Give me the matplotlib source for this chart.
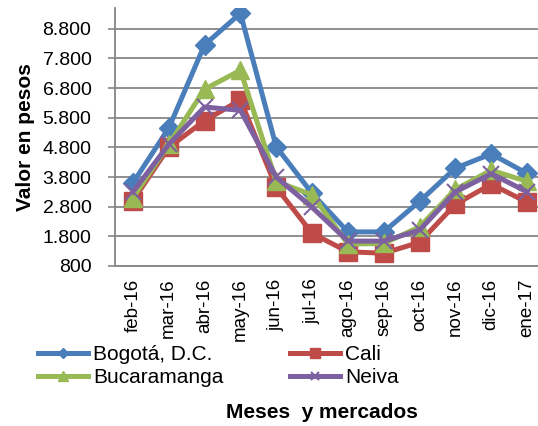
import matplotlib.pyplot as plt
from matplotlib.ticker import FuncFormatter

plt.rcParams['font.family'] = ['Liberation Sans', 'DejaVu Sans']

months = ['feb-16', 'mar-16', 'abr-16', 'may-16', 'jun-16', 'jul-16',
          'ago-16', 'sep-16', 'oct-16', 'nov-16', 'dic-16', 'ene-17']
bogota = [3600, 5450, 8260, 9320, 4820, 3250, 1950, 1950, 2980, 4100, 4580, 3920]
cali = [3000, 4800, 5700, 6400, 3450, 1900, 1280, 1230, 1600, 2880, 3560, 2950]
bucaramanga = [3100, 4900, 6760, 7400, 3650, 3200, 1540, 1560, 2120, 3380, 4030, 3650]
neiva = [3300, 4900, 6160, 6050, 3800, 2780, 1640, 1640, 2010, 3300, 3910, 3300]
yticks = [800, 1800, 2800, 3800, 4800, 5800, 6800, 7800, 8800]

fig = plt.figure(figsize=(5.38, 4.26), dpi=100)
ax = fig.add_axes([115/538, 1-266/426, 430/538, 258/426])

x = range(len(months))
lw = 3.6
l1, = ax.plot(x, bogota, color='#4A7EBB', lw=lw, marker='D', ms=10, label='Bogotá, D.C.', zorder=3)
l2, = ax.plot(x, cali, color='#BE4B48', lw=lw, marker='s', ms=13, label='Cali', zorder=4)
l3, = ax.plot(x, bucaramanga, color='#98B954', lw=lw, marker='^', ms=13, label='Bucaramanga', zorder=5)
l4, = ax.plot(x, neiva, color='#7D60A0', lw=lw, marker='x', ms=11, mew=1.5, label='Neiva', zorder=6)

ax.set_xlim(-0.5, 11.5)
ax.set_ylim(800, 9500)
ax.set_yticks(yticks)
ax.yaxis.set_major_formatter(FuncFormatter(lambda v, p: f'{int(v):,}'.replace(',', '.')))
ax.set_xticks(list(x))
ax.set_xticklabels(months, rotation=90, fontsize=13.5)
ax.tick_params(axis='y', labelsize=14, length=5, color='#868686', width=1.2, pad=12)
ax.tick_params(axis='x', length=0, pad=9)
ax.grid(axis='y', color='#868686', lw=1.3)
ax.set_axisbelow(True)
for s in ['top', 'right']:
    ax.spines[s].set_visible(False)
for s in ['left', 'bottom']:
    ax.spines[s].set_color('#868686')
    ax.spines[s].set_linewidth(1.3)

ax.set_ylabel('Valor en pesos', fontsize=15, fontweight='bold', labelpad=5)

fig.legend([l1, l3, l2, l4], ['Bogotá, D.C.', 'Bucaramanga', 'Cali', 'Neiva'],
           loc='upper left', bbox_to_anchor=(38/538, 1-345/426), ncol=2,
           frameon=False, fontsize=15, handlelength=2.4, handletextpad=0.25,
           columnspacing=3.2, labelspacing=0.2, borderpad=0, borderaxespad=0,
           markerscale=0.55)

fig.text(322/538, 1-412/426, 'Meses  y mercados', fontsize=15, fontweight='bold',
         ha='center', va='center')

fig.savefig('out.png', dpi=100)
